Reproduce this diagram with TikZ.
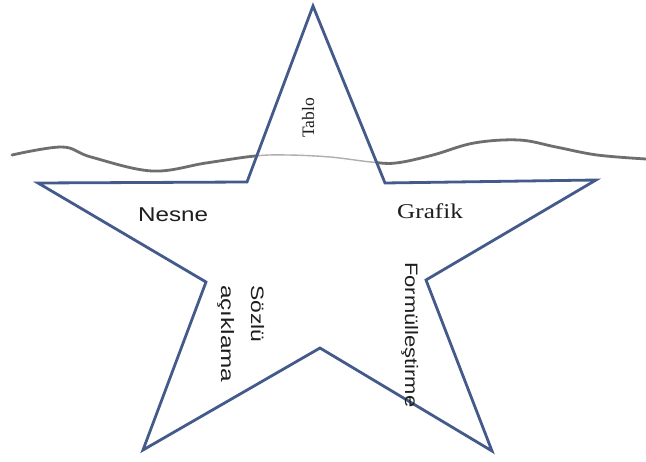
\documentclass[tikz,border=0pt]{standalone}
\usepackage{fontspec}
\setmainfont{Liberation Serif}
\setsansfont{Liberation Sans}
\definecolor{starblue}{RGB}{68,90,138}
\definecolor{wavegray}{RGB}{110,110,110}
\definecolor{txt}{RGB}{30,30,30}
\begin{document}
\begin{tikzpicture}[x=1pt,y=-1pt,
  starline/.style={draw=starblue,line width=2.8pt,line join=miter},
  wave/.style={draw=wavegray,line width=2.8pt,line cap=round},
  lbl/.style={inner sep=0pt,text=txt}]
\useasboundingbox[fill=white] (0,0) rectangle (646,462);
% star vertices
\coordinate (t) at (313,6);
\coordinate (iul) at (247,182);
\coordinate (ol) at (38,183);
\coordinate (il) at (206,282);
\coordinate (obl) at (143,450);
\coordinate (ib) at (320,348);
\coordinate (obr) at (492,451);
\coordinate (ir) at (426,280);
\coordinate (or) at (596,180);
\coordinate (iur) at (385,183);
% wave
\def\wavepath{plot[smooth,tension=0.6] coordinates {(12,155) (62,147) (91,157) (152,171) (206,163) (255,156) (288,155) (330,157) (371,162) (396,163) (433,155) (474,143) (519,140) (556,147) (597,155) (646,159)}}
\draw[wave] \wavepath;
\begin{scope}
\clip (t) -- (iul) -- (ol) -- (il) -- (obl) -- (ib) -- (obr) -- (ir) -- (or) -- (iur) -- cycle;
\draw[white,line width=4pt] \wavepath;
\draw[wavegray!55,line width=1.4pt] \wavepath;
\end{scope}
\draw[starline] (t) -- (iul) -- (ol) -- (il) -- (obl) -- (ib) -- (obr) -- (ir) -- (or) -- (iur) -- cycle;
% labels
\node[lbl,rotate=90,anchor=base west,font=\fontsize{17.5}{20}\selectfont] (tablo) at (314,138) {Tablo};
\node[lbl,anchor=base west,font=\sffamily\fontsize{20}{24}\selectfont] (nesne) at (138,222) {\scalebox{1.21}[1]{Nesne}};
\node[lbl,anchor=base west,font=\fontsize{21}{24}\selectfont] (grafik) at (397,219) {\scalebox{1.2}[1]{Grafik}};
\node[lbl,rotate=-90,anchor=base west,font=\sffamily\fontsize{18}{22}\selectfont] (sozlu) at (251,285) {\scalebox{1.27}[1]{Sözlü}};
\node[lbl,rotate=-90,anchor=base west,font=\sffamily\fontsize{18}{22}\selectfont] (aciklama) at (221,285) {\scalebox{1.35}[1]{açıklama}};
\node[lbl,rotate=-90,anchor=base west,font=\sffamily\fontsize{18}{22}\selectfont] (formul) at (405,262) {\scalebox{1.22}[1]{Formülleştirme}};
\end{tikzpicture}
\end{document}
